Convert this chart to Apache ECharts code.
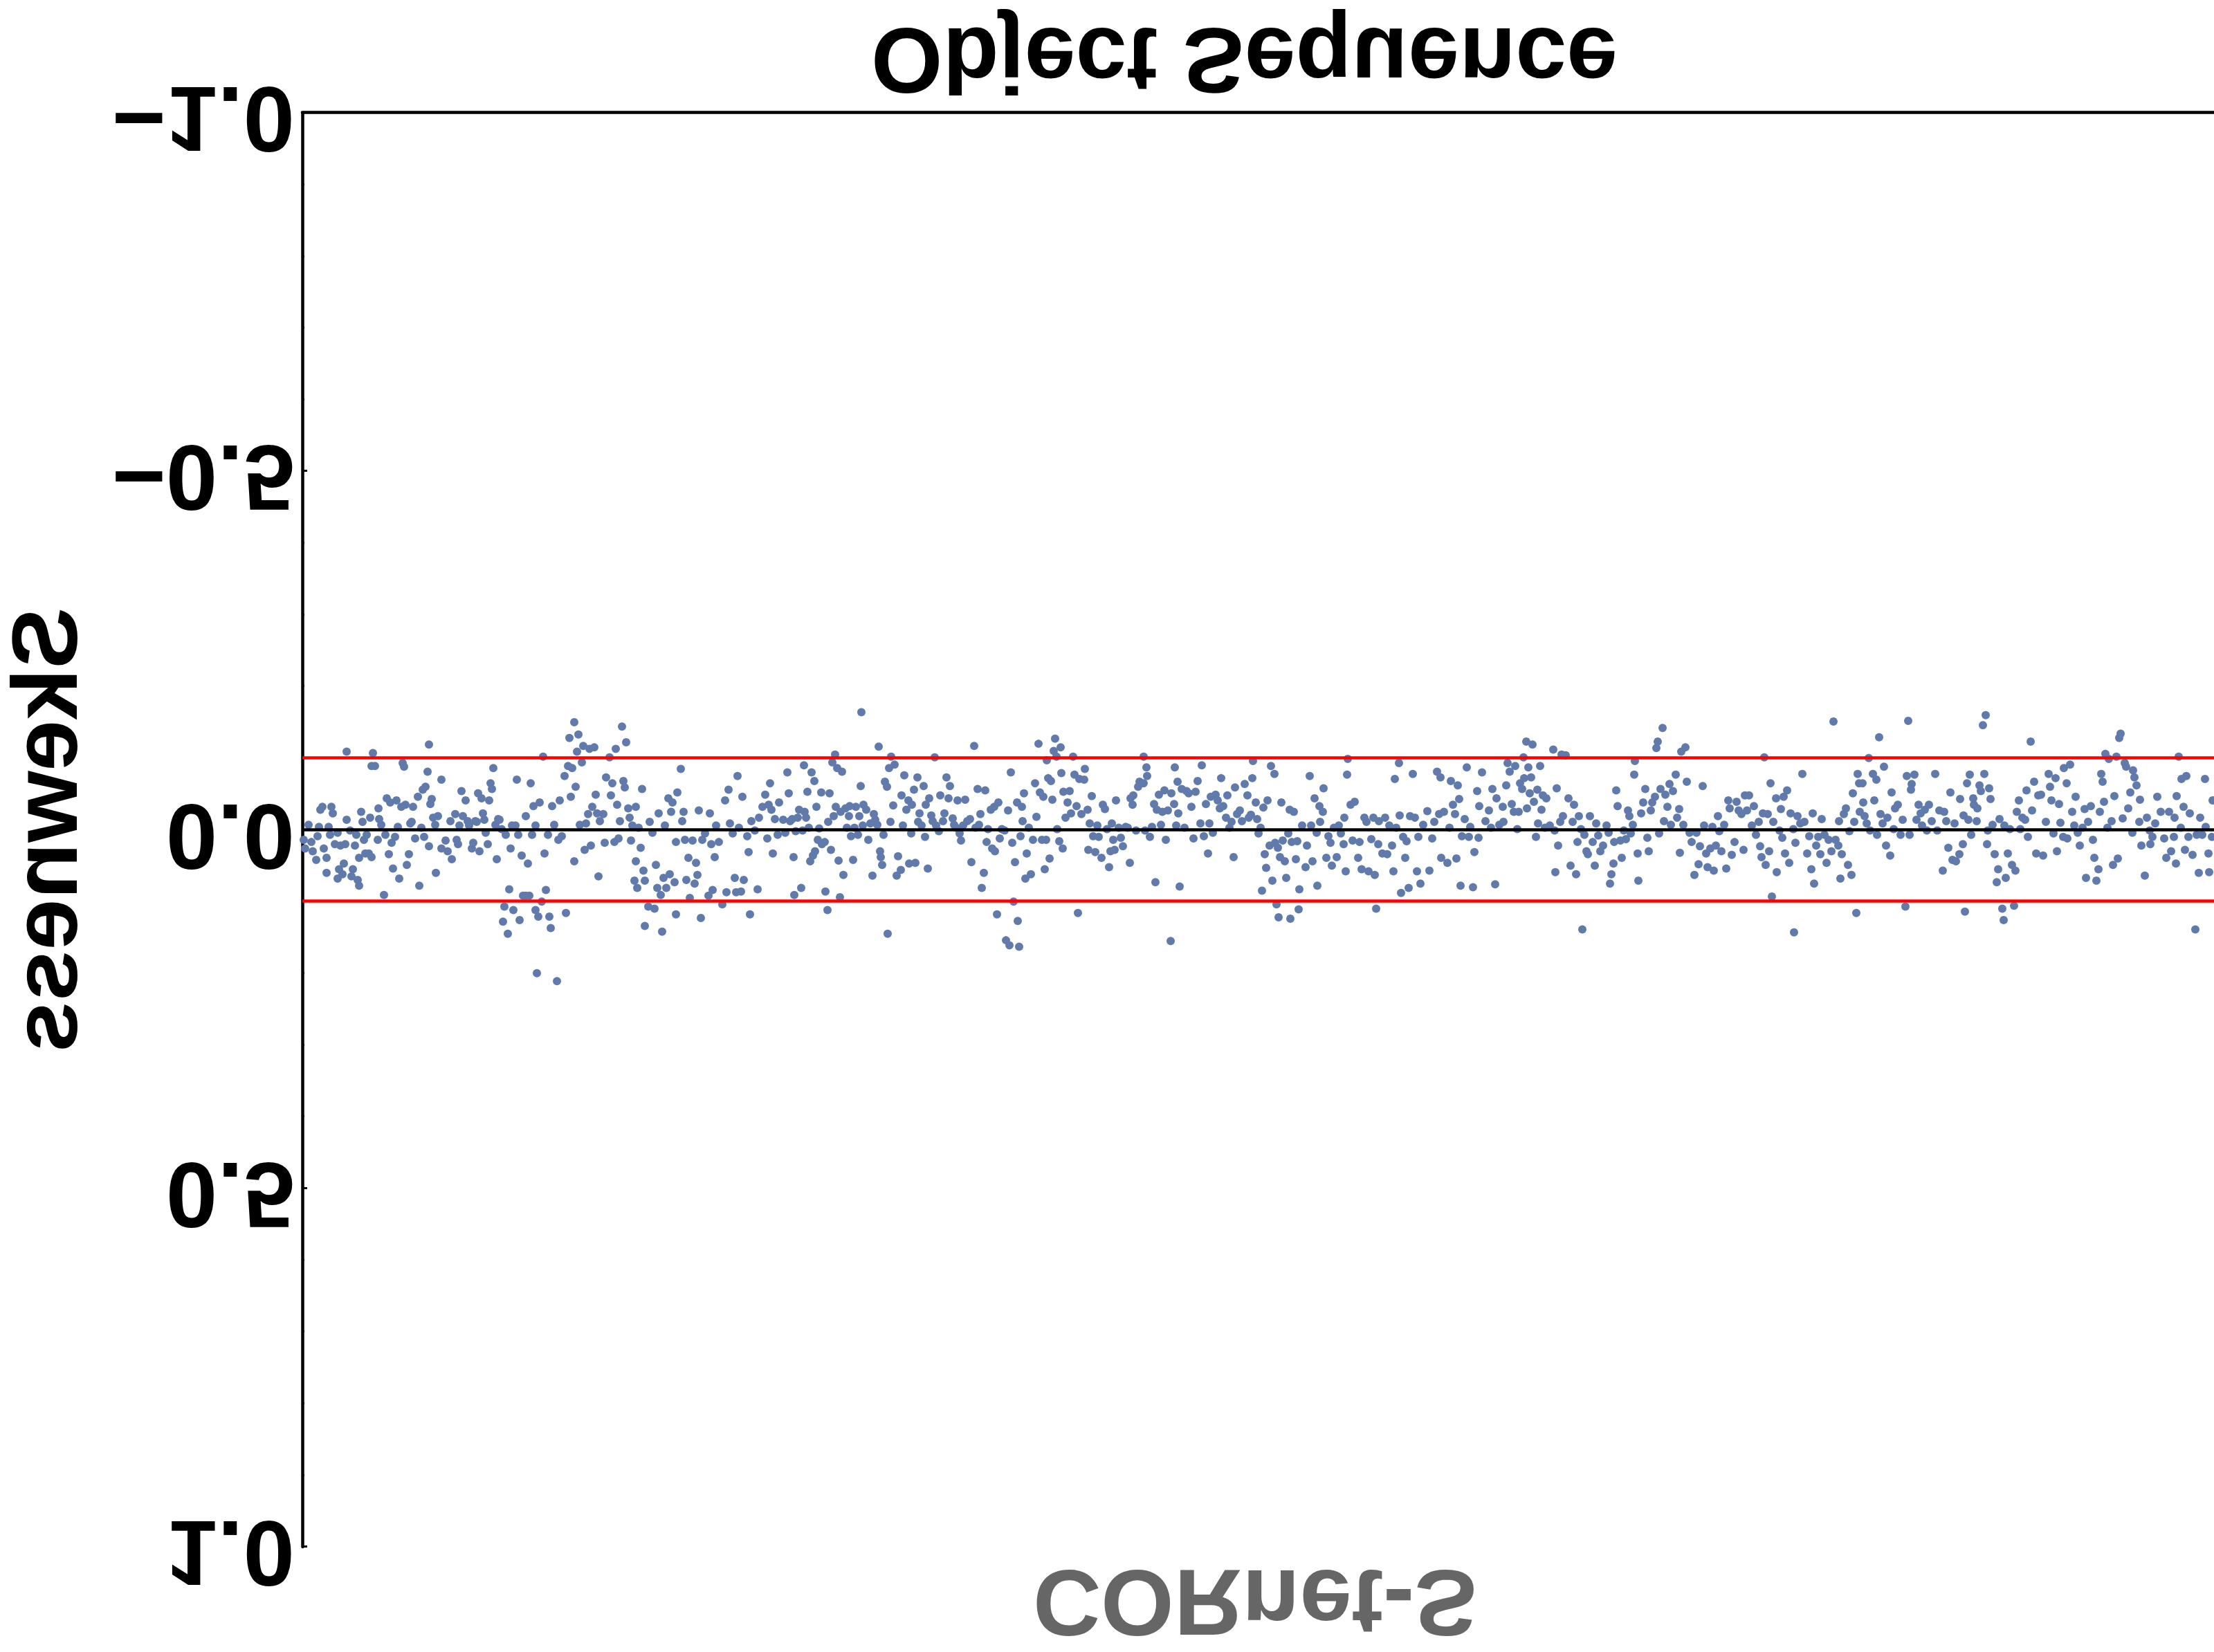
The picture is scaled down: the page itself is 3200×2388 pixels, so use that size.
<!DOCTYPE html>
<html>
<head>
<meta charset="utf-8">
<script src="https://cdn.jsdelivr.net/npm/echarts@6/dist/echarts.min.js"></script>
<style>
html,body{margin:0;padding:0;background:#fff;}
#chart{width:3200px;height:2388px;transform:scaleY(-1);}
</style>
</head>
<body>
<div id="chart"></div>
<script>
// ---- data: [unit index, skewness] ----
const skewPart1 = [[2,0.014],[4,0.026],[9,-0.007],[13,0.017],[15,0.030],[20,0.042],[22,0.009],[24,-0.004],[26,-0.028],[29,-0.032],[31,0.026],[35,0.039],[35,0.060],[38,-0.004],[40,0.007],[42,-0.032],[44,-0.023],[47,0.020],[51,0.004],[51,0.068],[53,0.055],[55,0.022],[58,0.062],[60,0.047],[62,0.020],[64,-0.014],[64,-0.109],[69,0.001],[71,0.065],[73,0.055],[76,0.022],[78,0.007],[80,0.070],[82,0.078],[82,0.039],[85,-0.025],[87,-0.011],[89,0.014],[91,0.033],[93,0.007],[96,0.033],[98,-0.017],[100,0.038],[100,-0.089],[102,-0.107],[105,-0.089],[109,0.014],[110,-0.030],[111,-0.015],[114,-0.007],[118,0.091],[120,0.007],[122,-0.044],[125,0.034],[127,-0.038],[129,0.018],[131,0.054],[134,0.010],[136,-0.041],[138,-0.004],[140,0.068],[143,-0.032],[145,-0.093],[147,-0.088],[149,-0.035],[151,0.049],[154,0.034],[156,-0.009],[158,-0.011],[160,-0.032],[163,0.012],[167,-0.046],[169,0.078],[172,-0.003],[174,-0.056],[176,0.010],[178,-0.060],[181,-0.081],[183,0.023],[183,-0.119],[185,-0.036],[187,-0.043],[189,-0.017],[192,-0.007],[193,0.060],[196,-0.019],[201,-0.070],[201,0.026],[207,0.015],[210,0.030],[214,-0.012],[216,0.041],[221,-0.022],[223,0.014],[225,0.020],[227,-0.006],[230,-0.054],[232,-0.019],[236,-0.041],[239,-0.012],[241,-0.006],[245,0.026],[247,0.018],[250,-0.012],[252,-0.011],[254,-0.051],[256,0.030],[259,-0.044],[261,-0.023],[263,-0.014],[265,0.004],[268,0.020],[270,-0.041],[272,-0.065],[274,-0.057],[276,-0.086],[279,-0.007],[281,0.041],[283,-0.015],[285,-0.014],[288,-0.001],[290,0.128],[292,0.107],[294,0.007],[297,0.145],[299,0.083],[301,0.026],[303,-0.006],[305,0.112],[308,-0.006],[310,-0.070],[312,0.007],[314,0.126],[317,0.036],[319,0.092],[323,-0.019],[323,0.092],[326,0.047],[328,0.092],[330,-0.065],[332,0.007],[334,-0.033],[337,0.112],[337,-0.006],[339,0.200],[341,0.121],[343,-0.038],[346,0.100],[348,-0.102],[350,0.033],[352,0.084],[355,0.007],[357,0.121],[359,0.137],[361,-0.033],[364,-0.007],[368,0.211],[370,0.014],[372,-0.041],[375,0.009],[379,-0.075],[381,0.116],[384,-0.089],[386,-0.128],[388,-0.046],[390,-0.086],[393,0.044],[393,-0.150],[395,-0.060],[397,-0.109],[399,-0.133],[401,-0.007],[404,-0.094],[406,-0.117],[408,0.028],[410,-0.009],[413,-0.022],[415,-0.113],[417,0.022],[419,-0.032],[422,-0.115],[424,-0.049],[426,-0.023],[428,0.065],[430,-0.012],[435,-0.022],[437,0.018],[439,-0.073],[444,-0.101],[446,-0.048],[448,-0.065],[451,0.017],[453,-0.113],[455,-0.035],[457,0.012],[459,-0.012],[462,-0.144],[464,-0.068],[466,-0.059],[468,-0.122],[471,-0.030],[473,-0.017],[475,0.015],[477,-0.006],[480,0.071],[482,0.044],[482,-0.032],[484,0.081],[486,-0.003],[489,0.025],[491,-0.057],[493,0.057],[495,0.134],[495,0.071],[500,0.107],[502,-0.011],[506,0.004],[509,0.110],[511,0.049],[513,0.081],[515,-0.023],[518,0.091],[520,0.142],[522,0.067],[524,-0.006],[526,0.081],[529,-0.044],[531,0.062],[533,-0.025],[535,-0.038],[538,0.073],[540,0.017],[540,0.118],[542,-0.052],[547,-0.085],[549,-0.012],[551,-0.025],[553,0.014],[555,0.070],[558,0.039],[560,0.095],[564,0.015],[567,0.075],[569,0.046],[571,0.063],[573,-0.027],[576,0.123],[578,0.014],[582,0.005],[587,0.092],[589,-0.023],[591,0.020],[593,0.084],[596,0.038],[598,-0.006],[602,0.017],[607,0.104],[611,-0.041],[613,0.087],[616,-0.056],[618,-0.009],[622,0.005],[625,0.067],[627,0.087],[629,-0.075],[631,-0.003],[634,0.086],[636,-0.046],[638,0.070],[643,0.009],[645,0.031],[647,0.118],[649,-0.012],[654,0.001],[658,0.083],[660,-0.017],[665,-0.032],[669,-0.049],[672,0.012],[674,-0.035],[676,-0.065],[678,-0.028],[680,0.033],[683,-0.015],[687,0.007],[689,-0.038]];

const skewPart2 = [[695,-0.014],[698,0.004],[701,-0.080],[703,-0.051],[705,-0.012],[708,-0.015],[710,0.038],[711,0.091],[713,0.002],[716,-0.017],[718,-0.028],[721,0.081],[723,0.001],[725,-0.090],[726,-0.025],[728,-0.017],[730,-0.053],[732,-0.003],[734,0.044],[736,-0.080],[738,0.036],[740,-0.068],[741,0.030],[743,-0.032],[745,0.014],[747,-0.002],[750,-0.052],[751,0.020],[755,0.017],[756,0.086],[759,0.112],[760,-0.011],[762,-0.051],[764,0.028],[766,-0.094],[768,-0.019],[770,-0.105],[771,-0.032],[773,-0.086],[775,0.043],[777,0.094],[778,-0.025],[780,-0.081],[782,0.063],[785,-0.030],[787,-0.003],[790,-0.019],[791,-0.033],[793,0.009],[796,0.042],[798,-0.003],[800,-0.032],[803,0.007],[805,-0.019],[807,-0.061],[808,-0.164],[810,-0.006],[811,-0.035],[815,-0.028],[818,0.014],[821,-0.009],[824,0.064],[826,-0.022],[828,-0.014],[831,-0.007],[833,-0.116],[835,0.030],[836,0.038],[838,0.049],[840,0.007],[842,-0.067],[845,-0.060],[846,0.145],[848,-0.086],[850,-0.011],[851,-0.102],[854,-0.034],[856,-0.091],[859,0.064],[861,0.037],[865,0.056],[866,-0.048],[868,-0.006],[870,-0.076],[873,-0.028],[876,-0.041],[877,0.047],[880,0.005],[881,-0.035],[884,-0.056],[886,0.046],[889,-0.073],[890,-0.011],[892,-0.023],[895,-0.006],[898,-0.061],[900,0.010],[901,-0.035],[904,0.054],[906,-0.044],[909,-0.020],[911,-0.012],[914,-0.101],[916,-0.006],[920,0.002],[922,-0.048],[926,-0.012],[928,-0.023],[931,-0.073],[934,-0.044],[936,-0.061],[940,-0.016],[942,-0.007],[945,-0.003],[947,-0.041],[950,0.005],[952,0.015],[955,-0.006],[958,-0.042],[961,-0.012],[965,-0.015],[967,0.045],[971,-0.117],[973,-0.003],[976,-0.057],[978,-0.007],[980,-0.022],[982,0.081],[985,0.060],[987,-0.055],[989,0.017],[991,-0.001],[995,-0.028],[997,0.026],[1000,-0.032],[1001,0.030],[1004,0.118],[1006,-0.038],[1008,0.012],[1011,-0.001],[1015,0.001],[1017,0.154],[1020,-0.027],[1022,0.161],[1024,-0.080],[1026,0.018],[1028,0.100],[1030,0.045],[1033,-0.038],[1034,0.127],[1036,0.163],[1038,0.009],[1040,-0.032],[1041,-0.012],[1043,-0.051],[1045,0.068],[1047,0.033],[1050,-0.003],[1053,0.062],[1056,0.014],[1059,-0.065],[1061,-0.018],[1064,-0.120],[1066,-0.052],[1069,0.014],[1071,-0.046],[1073,0.055],[1075,0.014],[1076,-0.097],[1078,-0.072],[1080,0.040],[1082,-0.068],[1084,-0.042],[1086,-0.110],[1088,-0.127],[1090,-0.102],[1091,-0.001],[1094,0.016],[1096,-0.115],[1097,-0.079],[1099,0.026],[1100,-0.053],[1103,-0.017],[1106,-0.038],[1109,-0.054],[1111,-0.023],[1114,-0.102],[1116,-0.077],[1119,-0.033],[1121,0.116],[1123,-0.071],[1126,-0.022],[1130,-0.070],[1131,-0.085],[1135,-0.028],[1136,0.028],[1138,-0.009],[1141,-0.047],[1143,0.009],[1146,0.031],[1149,-0.006],[1151,0.010],[1155,0.039],[1157,-0.035],[1160,-0.029],[1163,-0.001],[1166,0.052],[1168,0.030],[1170,-0.009],[1172,0.014],[1174,0.028],[1176,-0.041],[1180,-0.003],[1183,0.011],[1186,0.023],[1190,-0.004],[1193,-0.003],[1196,0.046],[1197,-0.044],[1200,-0.035],[1201,-0.048],[1205,0.001],[1208,-0.060],[1210,-0.067]];

const skewPart3 = [[1216,-0.102],[1216,-0.065],[1218,0.001],[1220,-0.087],[1221,-0.075],[1225,0.010],[1228,-0.004],[1231,-0.036],[1233,0.073],[1235,-0.028],[1238,-0.049],[1241,-0.007],[1243,-0.025],[1246,-0.055],[1248,0.014],[1251,-0.027],[1255,0.155],[1256,-0.051],[1260,-0.036],[1261,-0.087],[1263,-0.006],[1265,-0.067],[1266,-0.023],[1268,0.079],[1271,-0.057],[1275,-0.003],[1278,-0.054],[1281,-0.051],[1285,-0.032],[1288,0.012],[1291,-0.053],[1294,-0.068],[1298,-0.009],[1300,-0.090],[1303,0.009],[1306,-0.036],[1309,0.033],[1311,-0.009],[1313,-0.046],[1316,0.004],[1320,-0.049],[1323,-0.041],[1326,-0.030],[1328,-0.072],[1331,-0.033],[1335,-0.017],[1337,-0.048],[1340,-0.003],[1343,-0.011],[1346,0.038],[1348,-0.059],[1351,-0.022],[1355,-0.027],[1358,-0.012],[1362,-0.064],[1366,-0.048],[1368,-0.017],[1371,-0.021],[1373,-0.072],[1374,-0.096],[1378,-0.038],[1380,-0.015],[1382,0.005],[1385,-0.003],[1387,0.085],[1389,-0.031],[1391,0.034],[1393,0.053],[1395,-0.041],[1398,0.022],[1400,-0.089],[1402,0.071],[1405,-0.078],[1406,0.018],[1408,0.104],[1410,0.025],[1411,0.122],[1413,0.038],[1415,-0.038],[1417,0.015],[1420,0.044],[1422,0.067],[1425,0.005],[1427,-0.028],[1428,0.124],[1430,0.017],[1433,-0.025],[1436,0.041],[1438,0.016],[1440,0.111],[1441,0.083],[1445,-0.006],[1450,0.052],[1452,0.022],[1456,-0.075],[1458,-0.006],[1460,0.044],[1463,-0.044],[1466,0.004],[1467,0.078],[1470,-0.033],[1471,-0.011],[1475,-0.025],[1476,-0.058],[1480,0.039],[1483,0.009],[1486,0.018],[1488,0.050],[1491,-0.003],[1495,0.038],[1498,-0.006],[1501,0.005],[1505,0.020],[1506,-0.017],[1508,0.058],[1510,-0.077],[1511,-0.099],[1515,-0.035],[1518,0.015],[1521,-0.039],[1526,0.039],[1528,0.017],[1531,0.055],[1535,-0.017],[1538,-0.011],[1541,0.058],[1545,0.013],[1548,-0.017],[1550,0.063],[1552,0.110],[1555,0.020],[1556,-0.012],[1561,0.033],[1565,-0.017],[1568,0.034],[1571,-0.006],[1575,0.022],[1577,0.058],[1579,-0.071],[1581,-0.003],[1585,-0.093],[1586,-0.020],[1588,0.088],[1591,0.010],[1594,0.039],[1596,0.016],[1599,0.081],[1601,-0.019],[1605,-0.078],[1608,-0.017],[1611,0.058],[1613,0.010],[1616,0.075],[1620,-0.007],[1626,-0.026],[1629,0.057],[1633,0.012],[1636,-0.011],[1640,-0.081],[1643,-0.022],[1645,-0.073],[1646,0.039],[1650,-0.025],[1655,0.046],[1658,-0.003],[1660,-0.068],[1663,-0.035],[1666,-0.022],[1668,0.040],[1670,-0.062],[1672,-0.043],[1674,0.078],[1676,0.009],[1680,-0.015],[1683,-0.087],[1686,0.010],[1688,-0.004],[1692,0.080],[1694,0.031],[1698,-0.054],[1700,0.011],[1701,-0.033],[1705,-0.080],[1710,-0.012],[1715,-0.027],[1718,-0.003],[1720,-0.057],[1724,0.076],[1726,-0.044],[1730,-0.007]];

const skewPart4 = [[1735,-0.032],[1736,-0.011],[1740,-0.062],[1742,-0.093],[1745,-0.081],[1748,-0.036],[1751,-0.025],[1753,-0.089],[1756,-0.001],[1758,-0.025],[1760,-0.065],[1763,-0.057],[1765,-0.101],[1766,-0.072],[1769,-0.123],[1770,-0.030],[1772,-0.087],[1774,-0.051],[1776,-0.073],[1778,-0.119],[1780,-0.039],[1783,0.010],[1785,-0.056],[1786,-0.009],[1789,-0.089],[1791,-0.028],[1793,-0.048],[1796,-0.003],[1798,-0.044],[1803,-0.006],[1808,-0.112],[1810,0.001],[1811,0.059],[1813,-0.058],[1815,0.022],[1818,-0.011],[1820,-0.105],[1822,-0.019],[1826,-0.104],[1830,-0.044],[1833,0.050],[1836,-0.011],[1838,-0.035],[1841,0.062],[1843,0.017],[1845,-0.019],[1848,-0.001],[1850,0.139],[1853,0.007],[1856,0.030],[1858,0.034],[1861,-0.019],[1865,0.017],[1868,0.050],[1870,-0.009],[1873,0.008],[1876,0.030],[1880,0.022],[1885,-0.006],[1888,0.004],[1890,0.075],[1892,0.062],[1895,0.047],[1896,0.017],[1899,-0.055],[1901,-0.033],[1905,0.015],[1907,0.039],[1910,0.001],[1913,0.013],[1916,-0.027],[1918,-0.019],[1920,0.005],[1923,-0.007],[1925,-0.077],[1926,-0.096],[1930,0.033],[1931,0.071],[1935,-0.023],[1938,-0.038],[1941,-0.057],[1944,0.011],[1946,0.030],[1949,-0.027],[1951,-0.038],[1955,-0.046],[1957,-0.114],[1959,-0.123],[1961,0.005],[1963,-0.057],[1966,-0.142],[1968,-0.012],[1970,-0.049],[1973,-0.032],[1976,-0.064],[1978,-0.007],[1981,-0.054],[1985,-0.077],[1987,-0.017],[1990,-0.029],[1991,0.032],[1993,-0.109],[1996,-0.007],[1999,-0.115],[2001,-0.067],[2005,0.004],[2008,0.017],[2012,0.063],[2015,0.004],[2018,0.048],[2020,0.023],[2024,-0.061],[2026,-0.006],[2029,0.033],[2031,0.052],[2035,0.026],[2038,-0.004],[2040,0.057],[2043,0.022],[2046,-0.019],[2048,0.002],[2051,0.030],[2055,-0.007],[2058,0.054],[2061,-0.041],[2063,-0.030],[2066,0.035],[2070,0.017],[2073,-0.039],[2076,-0.027],[2080,-0.022],[2083,0.028],[2085,-0.048],[2088,-0.027],[2091,-0.048],[2095,-0.006],[2098,-0.033],[2101,0.007],[2105,-0.011],[2107,0.023],[2109,0.038],[2111,-0.023],[2113,-0.101],[2115,0.049],[2118,-0.022],[2120,0.030],[2122,-0.065],[2124,0.093],[2126,-0.011],[2130,-0.044],[2131,0.059],[2135,0.001],[2137,-0.029],[2139,0.011],[2141,-0.046],[2143,0.033],[2146,-0.055],[2149,0.046],[2151,-0.023],[2155,-0.001],[2156,0.143],[2158,0.018],[2161,-0.019],[2165,-0.009],[2168,-0.078],[2171,-0.011],[2175,0.033],[2178,0.009],[2181,0.055],[2183,-0.023],[2185,0.075],[2188,0.022],[2191,0.010],[2194,0.034],[2196,-0.015],[2200,0.007],[2203,0.046],[2206,0.014],[2210,0.030],[2213,-0.151],[2216,0.014],[2220,0.022],[2221,-0.012],[2223,0.068],[2225,0.034],[2228,-0.022],[2231,-0.030],[2234,0.049],[2236,0.002],[2239,0.063],[2241,-0.051],[2243,-0.011],[2246,0.116],[2248,-0.078],[2250,-0.065],[2251,-0.025]];

const skewPart5 = [[2255,-0.065],[2256,-0.038],[2258,-0.019],[2261,-0.009],[2264,-0.100],[2266,0.001],[2270,-0.078],[2272,-0.041],[2275,-0.070],[2276,0.007],[2279,-0.129],[2281,-0.022],[2284,-0.009],[2286,-0.088],[2289,0.022],[2291,-0.017],[2295,0.036],[2297,-0.052],[2300,-0.001],[2302,-0.030],[2306,-0.035],[2310,0.007],[2313,-0.014],[2317,0.107],[2319,-0.075],[2321,-0.152],[2323,0.007],[2326,-0.064],[2325,-0.056],[2330,-0.077],[2333,-0.014],[2336,-0.035],[2339,-0.023],[2341,-0.006],[2345,-0.028],[2348,0.001],[2351,-0.035],[2355,-0.012],[2360,-0.078],[2363,0.001],[2366,-0.027],[2371,0.057],[2373,-0.025],[2376,-0.012],[2379,0.025],[2382,-0.052],[2385,0.042],[2388,-0.009],[2390,0.044],[2395,0.034],[2396,-0.043],[2400,0.020],[2401,-0.020],[2403,0.114],[2406,-0.065],[2408,-0.014],[2410,-0.077],[2412,0.007],[2415,-0.044],[2416,-0.035],[2420,-0.012],[2421,-0.030],[2424,-0.062],[2426,-0.054],[2429,-0.146],[2431,-0.078],[2433,-0.160],[2435,0.020],[2436,0.001],[2438,-0.058],[2440,-0.043],[2443,-0.007],[2446,0.034],[2449,0.073],[2451,0.055],[2453,-0.015],[2457,0.110],[2459,0.126],[2460,-0.006],[2462,0.067],[2465,0.033],[2468,-0.001],[2471,0.049],[2474,0.106],[2476,0.057],[2478,-0.025],[2481,-0.041],[2483,-0.001],[2486,-0.017],[2490,-0.014],[2492,-0.055],[2494,0.010],[2498,-0.123],[2500,-0.027],[2503,-0.067],[2506,0.033],[2509,-0.048],[2513,-0.049],[2516,0.036],[2520,-0.011],[2524,-0.078],[2526,-0.060],[2528,-0.041],[2531,0.005],[2534,-0.072],[2536,0.030],[2539,-0.036],[2541,-0.010],[2545,0.010],[2546,-0.086],[2550,-0.065],[2551,0.012],[2555,-0.091],[2558,-0.025],[2561,-0.006],[2563,-0.046],[2566,0.004],[2569,0.022],[2573,-0.003],[2576,-0.029],[2578,0.067],[2581,-0.011],[2585,-0.033],[2588,0.014],[2590,0.039],[2593,0.071],[2596,0.055],[2598,-0.025],[2600,-0.078],[2602,-0.067],[2604,-0.039],[2606,-0.106],[2609,-0.003],[2611,-0.099],[2615,-0.012],[2617,0.049],[2619,-0.047],[2622,-0.102],[2624,0.040],[2626,-0.128],[2628,-0.134],[2631,-0.016],[2634,-0.093],[2636,-0.088],[2639,-0.030],[2642,-0.052],[2645,0.004],[2646,-0.083],[2648,-0.073],[2651,-0.062],[2655,-0.011],[2656,-0.042],[2658,0.022],[2663,0.064],[2666,-0.017],[2670,0.001],[2671,0.020],[2674,0.010],[2678,-0.009],[2681,-0.046],[2686,-0.025],[2691,0.012],[2694,0.039],[2698,-0.025],[2701,0.030],[2705,0.010],[2706,-0.017],[2708,0.047],[2709,-0.047],[2712,-0.102],[2715,-0.003],[2716,-0.071],[2719,-0.032],[2721,0.028],[2723,-0.075],[2726,0.010],[2728,-0.023],[2732,0.035],[2736,0.139],[2738,0.007],[2741,0.060],[2743,-0.017],[2746,0.007],[2750,-0.071],[2751,-0.004],[2755,0.033],[2756,0.059],[2760,0.010],[2761,-0.041]];

const referenceLevels = [0];
const thresholdLevels = [-0.1, 0.1];
const yTickValues = [-1.0, -0.5, 0.0, 0.5, 1.0];
const unitRange = [0, 2763];

const titleText = 'CORnet-S';
const xName = 'Object Sequence';
const yName = 'Skewness';

const allPoints = [].concat(skewPart1, skewPart2, skewPart3, skewPart4, skewPart5);

const FONT = '"Liberation Sans", Arial, Helvetica, sans-serif';
const chart = echarts.init(document.getElementById('chart'), null, {renderer: 'canvas'});

const option = {
  backgroundColor: '#ffffff',
  animation: false,
  grid: {left: 437, right: 0, top: 152, bottom: 163, outerBoundsMode: 'none', containLabel: false},
  graphic: [{
    type: 'text', x: 1814, y: 80, z: 10,
    style: {text: titleText, fill: '#666666', font: 'bold 136px ' + FONT,
            align: 'center', verticalAlign: 'middle', textAlign: 'center', textVerticalAlign: 'middle'}
  }],
  xAxis: {
    type: 'value', min: unitRange[0], max: unitRange[1],
    name: xName, nameLocation: 'middle', nameGap: 19,
    nameTextStyle: {fontFamily: FONT, fontWeight: 'bold', fontSize: 133, color: '#000', lineHeight: 133,
                    padding: [0, 40, 0, 0]},
    axisLine: {show: true, onZero: false, lineStyle: {color: '#000', width: 4.5}},
    axisTick: {show: false}, axisLabel: {show: false}, splitLine: {show: false}
  },
  yAxis: {
    type: 'value', min: yTickValues[0], max: yTickValues[yTickValues.length - 1], interval: 0.5,
    name: yName, nameLocation: 'middle', nameRotate: 90, nameGap: 296,
    nameTextStyle: {fontFamily: FONT, fontWeight: 'bold', fontSize: 133, color: '#000', lineHeight: 133},
    axisLine: {show: true, onZero: false, lineStyle: {color: '#000', width: 4.5}},
    axisTick: {show: true, inside: true, length: 7, lineStyle: {color: '#000', width: 3}},
    minorTick: {show: true, splitNumber: 5, length: 3, lineStyle: {color: '#000', width: 3}},
    axisLabel: {
      show: true, margin: 11, fontFamily: FONT, fontWeight: 'bold', fontSize: 134, color: '#000',
      formatter: function (v) { return (v < 0 ? '\u2212' : '') + Math.abs(v).toFixed(1); }
    },
    splitLine: {show: false}, minorSplitLine: {show: false}
  },
  series: [
    {
      type: 'scatter', data: allPoints, symbol: 'circle', symbolSize: 12, z: 2,
      itemStyle: {color: '#5f7aab', opacity: 1}, silent: true
    },
    {
      type: 'line', data: [], z: 5, silent: true,
      markLine: {
        silent: true, symbol: ['none', 'none'], label: {show: false}, animation: false,
        data: referenceLevels.map(v => ({yAxis: v, lineStyle: {color: '#000000', width: 4.5, type: 'solid'}}))
          .concat(thresholdLevels.map(v => ({yAxis: v, lineStyle: {color: '#ff0000', width: 4.5, type: 'solid'}})))
      }
    }
  ]
};
chart.setOption(option);
</script>
</body>
</html>
